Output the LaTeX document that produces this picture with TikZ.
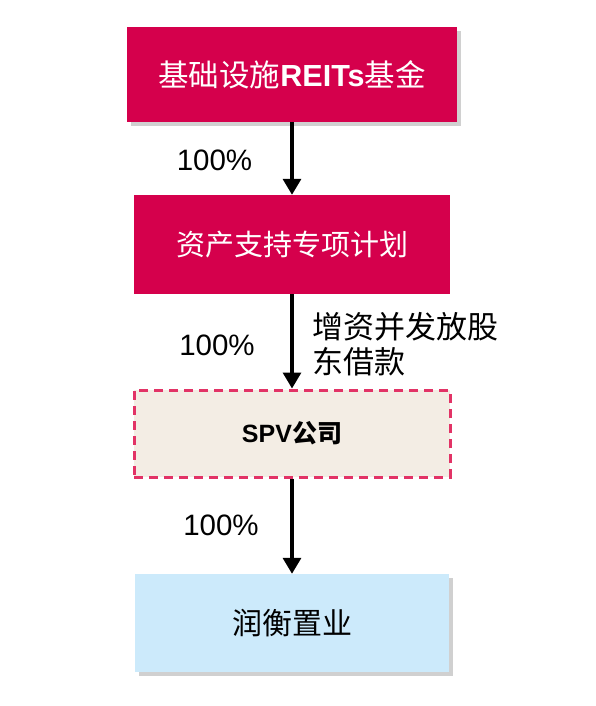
\documentclass[tikz,border=0pt]{standalone}
\usepackage{fontspec}
\setmainfont{Liberation Sans}
\newfontfamily\cjk{Noto Sans CJK SC}
\usetikzlibrary{arrows.meta,shadows}
\definecolor{crimson}{HTML}{D5004C}
\definecolor{beige}{HTML}{F3EDE4}
\definecolor{dashred}{HTML}{E23366}
\definecolor{lightblue}{HTML}{CCEAFB}
\tikzset{
  redbox/.style={rectangle, fill=crimson, text=white, inner sep=0pt, minimum width=316pt, minimum height=99pt},
  shadowed/.style={drop shadow={shadow xshift=4pt, shadow yshift=-4pt, opacity=0.3, fill=black!60}},
  spvbox/.style={rectangle, fill=beige, draw=dashred, line width=3pt, dash pattern=on 9pt off 6pt, inner sep=0pt, minimum width=316pt, minimum height=87pt},
  bluebox/.style={rectangle, fill=lightblue, inner sep=0pt, minimum width=314pt, minimum height=98pt},
  link/.style={line width=3.3pt, -{Triangle[width=18pt,length=16pt]}},
  pct/.style={font=\fontsize{29.5}{30}\selectfont, inner sep=0pt},
  note/.style={font=\cjk\fontsize{31}{35}\selectfont, align=left, inner sep=0pt, anchor=west}
}
\begin{document}
\begin{tikzpicture}[x=1pt,y=-1pt]
\useasboundingbox[fill=white] (0,0) rectangle (596,706);
\node[redbox, shadowed, minimum width=330pt, minimum height=95pt] (fund) at (292,74.5)
  {\cjk\fontsize{30.5}{32}\selectfont 基础设施{\rmfamily\bfseries REITs}基金};
\node[redbox] (abs) at (292,244.5) {\cjk\fontsize{29}{30}\selectfont 资产支持专项计划};
\node[spvbox] (spv) at (292,433.5) {\fontsize{25}{26}\selectfont\bfseries SPV{\cjk 公司}};
\node[bluebox, shadowed] (rh) at (292,623) {\cjk\fontsize{30}{30}\selectfont 润衡置业};
\draw[link] (fund.south) -- (abs.north);
\draw[link] (abs.south) -- (spv.north);
\draw[link] (spv.south) -- (rh.north);
\node[pct] (p1) at (214.5,160) {100\%};
\node[pct] (p2) at (217,345) {100\%};
\node[pct] (p3) at (221,525) {100\%};
\node[note] (n2) at (312,344.5) {增资并发放股\\东借款};
\end{tikzpicture}
\end{document}
